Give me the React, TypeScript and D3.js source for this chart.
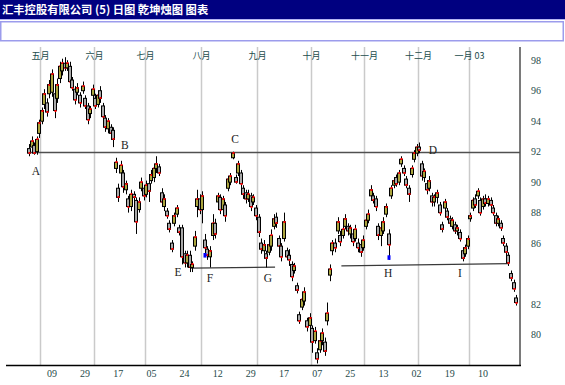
import * as d3 from "d3";
import { useEffect, useRef } from "react";

const title = "汇丰控股有限公司 (5) 日图 乾坤烛图 图表";

// daily candles 25 Apr 2002 .. 29 Jan 2003, [open, high, low, close]
const candles: [number, number, number, number][] = [
  [92.2, 92.5, 91.7, 91.9], [92.3, 93.0, 92.1, 92.7], [92.4, 92.6, 91.8, 91.9], [92.0, 93.0, 91.8, 92.8],
  [93.2, 94.1, 92.9, 93.9], [94.0, 94.9, 93.8, 94.7], [95.1, 96.1, 94.8, 95.8], [95.2, 95.5, 94.3, 94.6],
  [95.8, 96.7, 95.5, 96.4], [95.9, 97.4, 95.6, 97.1], [95.8, 96.0, 94.2, 94.7], [95.5, 96.8, 95.2, 96.4],
  [96.8, 97.9, 96.5, 97.6], [97.3, 98.1, 97.0, 97.8], [97.8, 98.2, 97.3, 97.5], [97.5, 98.0, 97.3, 97.8],
  [97.6, 97.9, 96.3, 96.6], [96.7, 96.9, 96.0, 96.2], [96.1, 96.3, 95.1, 95.4], [95.9, 96.5, 95.7, 96.2],
  [95.7, 95.9, 94.9, 95.2], [96.0, 96.6, 95.8, 96.3], [95.5, 95.7, 94.8, 95.0], [95.0, 95.2, 93.8, 94.1],
  [94.5, 95.0, 94.2, 94.8], [95.7, 96.4, 95.5, 96.1], [95.5, 95.8, 94.8, 95.0], [95.1, 96.0, 94.9, 95.7],
  [96.0, 96.3, 95.2, 95.5], [95.0, 95.2, 94.1, 94.3], [94.2, 94.4, 93.3, 93.6], [93.5, 94.2, 93.2, 94.0],
  [93.6, 93.8, 93.0, 93.2], [93.4, 93.6, 92.3, 92.8],
  [90.9, 91.6, 90.6, 91.3], [89.6, 89.9, 88.7, 89.0], [90.6, 91.4, 90.4, 91.1], [90.6, 90.8, 89.3, 89.7],
  [89.5, 90.1, 89.2, 89.9], [88.9, 89.1, 88.0, 88.4], [88.4, 89.5, 88.1, 89.2], [89.2, 89.4, 88.8, 89.0],
  [88.8, 89.0, 86.6, 87.4], [88.2, 89.0, 88.0, 88.7], [89.6, 90.3, 89.4, 90.0], [89.6, 89.8, 88.8, 89.1],
  [89.2, 90.1, 89.0, 89.8], [89.9, 90.1, 88.7, 89.4], [90.1, 90.8, 89.9, 90.5], [90.3, 91.1, 90.0, 90.9],
  [90.9, 91.7, 90.6, 91.2], [91.0, 91.2, 90.4, 90.6], [89.3, 89.6, 88.4, 88.7], [88.4, 89.2, 88.1, 88.9],
  [88.1, 88.3, 87.6, 87.8], [87.3, 87.5, 86.7, 86.9], [86.0, 86.2, 85.4, 85.6], [87.3, 88.0, 87.1, 87.8],
  [87.9, 88.5, 87.7, 88.3], [87.0, 87.2, 86.5, 86.7], [87.0, 87.2, 84.6, 85.1], [85.3, 85.5, 84.4, 84.7],
  [84.7, 85.5, 84.4, 85.2],
  [85.2, 85.5, 84.1, 84.4], [84.4, 84.8, 84.1, 84.6], [85.8, 86.8, 85.5, 86.4], [88.4, 89.5, 87.7, 88.9],
  [88.9, 89.2, 87.9, 88.2], [88.2, 89.4, 87.3, 89.1], [86.2, 86.6, 85.4, 85.7], [85.6, 85.8, 84.9, 85.2],
  [85.1, 85.8, 84.4, 85.5], [86.5, 87.9, 86.2, 87.3], [87.3, 87.6, 86.3, 86.6], [88.7, 89.3, 88.5, 89.1],
  [89.0, 89.2, 87.9, 88.2], [88.2, 89.1, 88.0, 88.9], [88.5, 88.7, 87.4, 87.8], [89.6, 90.4, 89.4, 90.2],
  [90.0, 90.6, 89.8, 90.4], [91.6, 92.0, 91.5, 91.9], [90.3, 90.5, 89.9, 90.0], [90.6, 91.4, 90.4, 91.2],
  [90.6, 90.8, 89.6, 89.9], [89.6, 89.8, 88.9, 89.2], [89.3, 89.5, 88.6, 88.9], [88.9, 89.5, 88.7, 89.2],
  [89.1, 89.3, 88.1, 88.4], [88.7, 89.2, 88.5, 89.0], [88.3, 88.5, 87.5, 87.8], [87.7, 87.9, 86.4, 86.7],
  [86.0, 86.3, 85.3, 85.6], [85.5, 86.2, 85.3, 85.9], [85.3, 85.5, 84.4, 85.0], [85.4, 86.1, 85.2, 85.9],
  [85.8, 86.9, 85.5, 86.5], [87.1, 87.9, 86.9, 87.6], [87.7, 88.0, 87.0, 87.3], [86.3, 86.5, 85.5, 85.8],
  [85.8, 86.0, 84.8, 85.1], [86.3, 88.0, 86.1, 87.4], [85.5, 85.7, 84.9, 85.1], [85.2, 85.6, 84.5, 84.9],
  [84.6, 84.8, 83.5, 83.8], [84.2, 84.7, 84.0, 84.5], [83.2, 83.4, 82.7, 82.9], [81.3, 81.5, 80.7, 80.9],
  [81.8, 82.6, 81.6, 82.3], [82.2, 83.1, 81.9, 82.8], [80.9, 81.1, 80.2, 80.5], [80.6, 81.4, 80.4, 81.1],
  [80.4, 80.6, 78.8, 79.5], [79.6, 80.5, 79.4, 80.2], [78.8, 79.1, 78.1, 78.4], [79.0, 79.9, 78.8, 79.6],
  [79.6, 80.4, 79.3, 80.1], [79.5, 79.8, 78.6, 78.9], [80.9, 82.1, 80.6, 81.4], [83.9, 84.6, 83.5, 84.3],
  [85.5, 86.2, 85.2, 86.0], [86.0, 86.3, 85.4, 85.7], [86.8, 87.7, 86.6, 87.4], [86.5, 86.8, 85.8, 86.1],
  [86.5, 87.2, 86.3, 86.9], [87.1, 87.9, 86.9, 87.6], [87.1, 87.3, 86.5, 86.8], [86.6, 87.2, 86.3, 87.0],
  [86.6, 86.8, 85.8, 86.1], [86.3, 87.2, 86.1, 86.9], [86.0, 86.3, 85.4, 85.7], [85.9, 86.1, 85.1, 85.4],
  [85.7, 86.5, 85.5, 86.2], [87.1, 87.9, 86.9, 87.5], [87.5, 88.2, 87.3, 87.9], [89.1, 89.8, 88.9, 89.5],
  [89.1, 89.3, 88.6, 88.8], [88.9, 89.1, 88.1, 88.4], [87.1, 87.3, 86.2, 86.5],
  [86.5, 87.3, 85.8, 87.0], [86.8, 87.7, 86.6, 87.4], [87.9, 88.6, 87.7, 88.4], [86.6, 86.9, 84.9, 85.9],
  [89.1, 89.8, 88.9, 89.6], [89.8, 90.3, 89.6, 90.1], [90.3, 90.5, 89.7, 89.9], [90.0, 90.8, 89.8, 90.6],
  [91.2, 91.7, 91.0, 91.5], [90.9, 91.1, 90.4, 90.6], [90.2, 90.4, 89.6, 89.8], [89.6, 89.8, 88.7, 89.2],
  [90.5, 91.1, 90.3, 90.9], [91.5, 92.1, 91.3, 91.9], [91.9, 92.5, 91.7, 92.3], [92.3, 92.6, 91.9, 92.1],
  [91.2, 91.4, 90.1, 90.4], [90.3, 90.9, 90.0, 90.7], [89.9, 90.1, 89.2, 89.5], [89.6, 90.4, 89.4, 90.1],
  [89.1, 89.3, 88.4, 88.7], [88.7, 89.2, 88.4, 89.0], [89.0, 89.5, 88.6, 89.3], [88.5, 88.7, 87.8, 88.0],
  [87.2, 87.4, 86.7, 86.9], [88.3, 88.9, 88.1, 88.7], [88.1, 88.3, 87.5, 87.7], [87.6, 87.8, 87.1, 87.3],
  [87.1, 87.7, 86.9, 87.5], [87.2, 87.4, 86.6, 86.8], [86.8, 87.2, 86.5, 87.0], [86.7, 86.9, 86.1, 86.3],
  [85.5, 85.7, 84.8, 85.0], [85.3, 85.9, 85.1, 85.7], [85.8, 86.5, 85.6, 86.3], [87.6, 88.0, 87.4, 87.8],
  [88.3, 89.0, 88.1, 88.8], [88.9, 89.2, 88.3, 88.5], [89.1, 89.6, 88.9, 89.4], [88.8, 89.0, 87.8, 88.0],
  [88.4, 89.1, 88.2, 88.9], [88.9, 89.2, 88.4, 88.6], [88.6, 89.1, 88.4, 88.9], [88.8, 89.0, 88.3, 88.5],
  [88.3, 88.5, 87.8, 88.0], [87.8, 88.0, 87.1, 87.3], [87.3, 87.8, 87.1, 87.6], [87.3, 87.5, 86.8, 87.0],
  [86.3, 86.5, 85.8, 86.0], [85.8, 86.0, 85.2, 85.4], [85.2, 85.4, 84.5, 84.7], [84.0, 84.2, 83.5, 83.7],
  [83.4, 83.6, 82.8, 83.0], [82.4, 82.6, 81.9, 82.1],
];

const monthLabels = ["五月", "六月", "七月", "八月", "九月", "十月", "十一月", "十二月", "一月 03"];
const monthStart = [4, 25, 45, 67, 89, 110, 131, 152, 172];

const dayLabels = ["09", "29", "17", "05", "24", "12", "29", "17", "07", "25", "13", "02", "19", "10"];
const dayIndex = [9, 22, 35, 48, 61, 74, 87, 100, 113, 126, 139, 152, 165, 178];

const priceTicks = [98, 96, 94, 92, 90, 88, 86, 82, 80];

const resistance = 92;
// support lines: [index, price] end points
const supportLines: [number, number][][] = [
  [[63.5, 84.36], [96.5, 84.42]],
  [[122.5, 84.5], [188, 84.65]],
];

const markLabels = ["A", "B", "C", "D", "E", "F", "G", "H", "I"];
const markIndex = [2.7, 37.6, 80.8, 158.4, 58.4, 71, 93.7, 140.8, 169];
const markPrice = [90.7, 92.45, 92.8, 92.1, 84.1, 83.7, 83.7, 84.05, 84.05];

// blue signal boxes [index, top, bottom]
const signals: [number, number, number][] = [
  [69, 85.35, 85.05],
  [141, 85.2, 84.9],
];

export default function App() {
  const ref = useRef<SVGSVGElement>(null);

  useEffect(() => {
    const svg = d3.select(ref.current);
    svg.selectAll("*").remove();
    const W = 565, H = 385;
    const left = 29, right = 520, top = 45, bottom = 365;

    const x = d3.scaleLinear().domain([0, 191]).range([left, left + 191 * 2.55]);
    const y = d3.scaleLinear().domain([78, 99]).range([bottom, top]);

    svg.append("rect").attr("width", W).attr("height", H).attr("fill", "#fff");

    // header
    svg.append("rect").attr("width", W).attr("height", 19).attr("fill", "#000080");
    svg.append("line").attr("x1", 0).attr("x2", W).attr("y1", 19.5).attr("y2", 19.5)
      .attr("stroke", "#b4b4f4");
    svg.append("text").attr("x", 2).attr("y", 14).text(title)
      .attr("fill", "#fff").attr("font-size", 11.3).attr("font-weight", "bold")
      .attr("font-family", "'Noto Sans CJK SC', sans-serif");
    svg.append("rect").attr("x", 0.75).attr("y", 21.75).attr("width", 562.5).attr("height", 19)
      .attr("fill", "#fff").attr("stroke", "#9c9cec").attr("stroke-width", 1.5);

    const g = svg.append("g");

    // month grid
    monthStart.forEach((m, k) => {
      const gx = Math.round(x(m + 0.5)) + 0.5;
      g.append("line").attr("x1", gx).attr("x2", gx).attr("y1", 47).attr("y2", bottom)
        .attr("stroke", "#cacaca").attr("stroke-width", 1.5);
      g.append("text").attr("x", gx).attr("y", 55).text(monthLabels[k])
        .attr("text-anchor", "middle").attr("dominant-baseline", "central")
        .attr("font-size", 9).attr("fill", "#1a4c4c")
        .attr("font-family", "'Noto Sans CJK SC', sans-serif");
    });

    // axes
    g.append("line").attr("x1", right).attr("x2", right).attr("y1", 47).attr("y2", bottom)
      .attr("stroke", "#7a7a7a").attr("stroke-width", 2);
    g.append("line").attr("x1", 6).attr("x2", right + 1).attr("y1", bottom + 0.5).attr("y2", bottom + 0.5)
      .attr("stroke", "#000").attr("stroke-width", 1.5);

    priceTicks.forEach((p) => {
      g.append("text").attr("x", 531).attr("y", y(p)).text(p)
        .attr("dominant-baseline", "central").attr("font-size", 10).attr("fill", "#1f4a4a")
        .attr("font-family", "'Liberation Serif', serif");
    });
    dayIndex.forEach((d, k) => {
      g.append("text").attr("x", x(d)).attr("y", 373).text(dayLabels[k])
        .attr("text-anchor", "middle").attr("dominant-baseline", "central")
        .attr("font-size", 10).attr("fill", "#1f4a4a")
        .attr("font-family", "'Liberation Serif', serif");
    });

    // resistance and support lines
    g.append("line").attr("x1", x(0) - 1).attr("x2", right)
      .attr("y1", Math.round(y(resistance)) + 0.5).attr("y2", Math.round(y(resistance)) + 0.5)
      .attr("stroke", "#505050").attr("stroke-width", 1.5);
    const line = d3.line<[number, number]>().x((d) => x(d[0])).y((d) => y(d[1]));
    supportLines.forEach((s) => {
      g.append("path").attr("d", line(s)).attr("fill", "none")
        .attr("stroke", "#3a3a3a").attr("stroke-width", 1.2);
    });

    // candles
    const c = g.append("g").selectAll("g").data(candles).enter().append("g");
    c.append("line")
      .attr("x1", (_d, i) => Math.round(x(i)) + 0.5).attr("x2", (_d, i) => Math.round(x(i)) + 0.5)
      .attr("y1", (d) => y(d[1])).attr("y2", (d) => y(d[2]))
      .attr("stroke", "#000").attr("stroke-width", 1);
    c.append("rect")
      .attr("x", (_d, i) => Math.round(x(i)) - 1.5).attr("width", 3)
      .attr("y", (d) => y(Math.max(d[0], d[3])))
      .attr("height", (d) => Math.max(1.5, Math.abs(y(d[0]) - y(d[3]))))
      .attr("fill", (d) => (d[3] > d[0] ? "#aaa43e" : "#a9a9a9"))
      .attr("stroke", "#000").attr("stroke-width", 1);
    c.append("rect")
      .attr("x", (_d, i) => Math.round(x(i)) - 0.5).attr("width", 2)
      .attr("y", (d) => Math.round(y(d[3])) - 1).attr("height", 2)
      .attr("fill", "#ff0000");

    signals.forEach(([i, hi, lo]) => {
      g.append("rect").attr("x", Math.round(x(i)) - 1.5).attr("width", 3)
        .attr("y", y(hi)).attr("height", y(lo) - y(hi)).attr("fill", "#0000ff");
    });

    // pattern letters
    markLabels.forEach((m, k) => {
      g.append("text").attr("x", x(markIndex[k])).attr("y", y(markPrice[k])).text(m)
        .attr("text-anchor", "middle").attr("dominant-baseline", "central")
        .attr("font-size", 11.5).attr("fill", "#222")
        .attr("font-family", "'Liberation Serif', serif");
    });
  }, []);

  return (
    <svg
      ref={ref}
      width={565}
      height={385}
      style={{ position: "absolute", left: 0, top: 0, display: "block" }}
    />
  );
}
